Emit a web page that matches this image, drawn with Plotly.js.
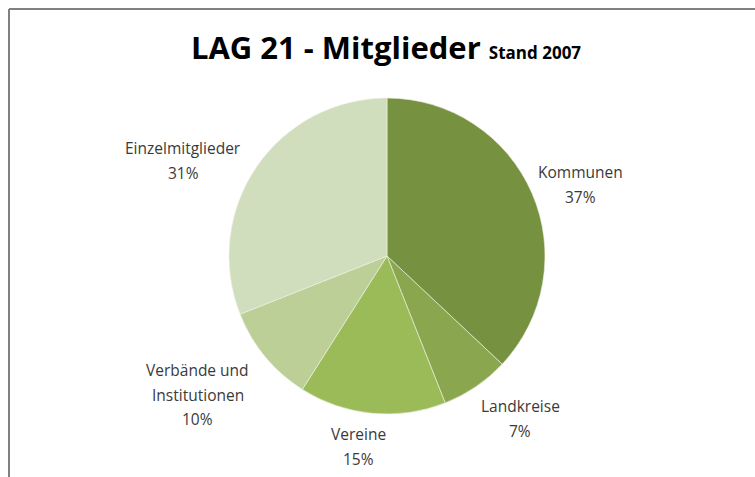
<!DOCTYPE html>
<html>
<head>
<meta charset="utf-8">
<script src="https://cdn.plot.ly/plotly-3.0.1.min.js"></script>
<style>html,body{margin:0;padding:0;background:#fff;}#chart{width:755px;height:477px;}</style>
</head>
<body>
<div id="chart"></div>
<script>
// Data
const categories = ["Kommunen", "Landkreise", "Vereine", "Verbände und Institutionen", "Einzelmitglieder"];
const shares = [37, 7, 15, 10, 31];
const sliceColors = ["#76913F", "#8AA74F", "#9BBB59", "#BBCF96", "#D1DEBE"];

// Layout geometry (pixels)
const W = 755, H = 477;
const cx = 387, cy = 256, R = 158;
// label block: centre x and y of first line (pixels)
const labelAnchor = [[580, 172], [520, 406], [358, 434], [198, 370], [183, 148]];
const lineGap = 24.5;

const total = shares.reduce((a, b) => a + b, 0);
const pct = shares.map(v => Math.round(v / total * 100) + "%");

const annotations = [];
categories.forEach((c, i) => {
  const lines = c.replace(" und ", " und\n").split("\n").concat([pct[i]]);
  lines.forEach((t, k) => {
    annotations.push({
      xref: "paper", yref: "paper",
      x: labelAnchor[i][0] / W, y: 1 - (labelAnchor[i][1] + k * lineGap) / H,
      xanchor: "center", yanchor: "middle",
      showarrow: false,
      text: t,
      font: {family: "'Open Sans', sans-serif", size: 15.5, color: "#3a3a3a"}
    });
  });
});

const trace = {
  type: "pie",
  labels: categories,
  values: shares,
  sort: false,
  direction: "clockwise",
  rotation: 0,
  textinfo: "none",
  hoverinfo: "label+percent",
  marker: {colors: sliceColors, line: {color: "#eef2e6", width: 0.6}},
  domain: {x: [(cx - R) / W, (cx + R) / W], y: [1 - (cy + R) / H, 1 - (cy - R) / H]},
  showlegend: false
};

const layout = {
  width: W, height: H,
  margin: {l: 0, r: 0, t: 0, b: 0},
  paper_bgcolor: "#ffffff",
  title: {
    text: "<b>LAG 21 - Mitglieder</b> <b><span style='font-size:17px'>Stand 2007</span></b>",
    font: {family: "'Open Sans', sans-serif", size: 31, color: "#000000"},
    x: 386 / W, xanchor: "center", xref: "paper",
    y: 1 - 48 / H, yanchor: "middle", yref: "container"
  },
  annotations: annotations,
  shapes: [
    {type: "line", xref: "paper", yref: "paper", x0: 9 / W, x1: 1, y0: 1 - 9 / H, y1: 1 - 9 / H, line: {color: "#808080", width: 2}},
    {type: "line", xref: "paper", yref: "paper", x0: 9 / W, x1: 9 / W, y0: 0, y1: 1 - 9 / H, line: {color: "#808080", width: 2}}
  ]
};

Plotly.newPlot("chart", [trace], layout, {displayModeBar: false, staticPlot: true});
</script>
</body>
</html>
